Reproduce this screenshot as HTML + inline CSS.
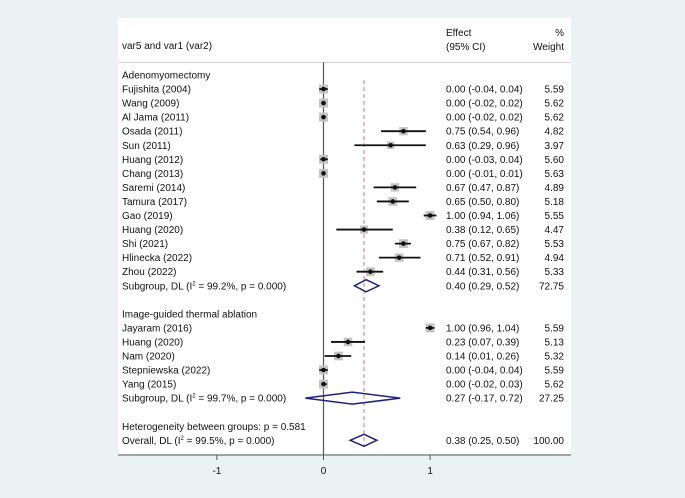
<!DOCTYPE html>
<html><head><meta charset="utf-8"><style>
body{margin:0;background:#eaf2f3;}
svg{display:block;font-family:"Liberation Sans",Arial,sans-serif;}
</style></head><body>
<svg id="plot" width="685" height="498" viewBox="0 0 685 498">
<rect x="0" y="0" width="685" height="498" fill="#eaf2f3"/>
<rect x="118" y="18" width="453" height="436" fill="#ffffff"/>
<text x="122" y="49" font-size="10" fill="#111">var5 and var1 (var2)</text>
<text x="446" y="36" font-size="10" fill="#111">Effect</text>
<text x="446" y="50" font-size="10" fill="#111">(95% CI)</text>
<text x="564" y="36" font-size="10" fill="#111" text-anchor="end">%</text>
<text x="564" y="50" font-size="10" fill="#111" text-anchor="end">Weight</text>
<line x1="118" y1="62.5" x2="571" y2="62.5" stroke="#cfcfcf" stroke-width="1"/>
<g id="marks"></g>
</svg>
<script>
// row types: h=heading, s=study, g=subgroup, t=text, o=overall
const labels = ["Adenomyomectomy","Fujishita (2004)","Wang (2009)","Al Jama (2011)","Osada (2011)","Sun (2011)","Huang (2012)","Chang (2013)","Saremi (2014)","Tamura (2017)","Gao (2019)","Huang (2020)","Shi (2021)","Hlinecka (2022)","Zhou (2022)","Subgroup, DL","","Image-guided thermal ablation","Jayaram (2016)","Huang (2020)","Nam (2020)","Stepniewska (2022)","Yang (2015)","Subgroup, DL","","Heterogeneity between groups: p = 0.581","Overall, DL"];
const rowTypes = ["h","s","s","s","s","s","s","s","s","s","s","s","s","s","s","g","","h","s","s","s","s","s","g","","t","o"];
const effects = [null,0.00,0.00,0.00,0.75,0.63,0.00,0.00,0.67,0.65,1.00,0.38,0.75,0.71,0.44,0.40,null,null,1.00,0.23,0.14,0.00,0.00,0.27,null,null,0.38];
const lowers  = [null,-0.04,-0.02,-0.02,0.54,0.29,-0.03,-0.01,0.47,0.50,0.94,0.12,0.67,0.52,0.31,0.29,null,null,0.96,0.07,0.01,-0.04,-0.02,-0.17,null,null,0.25];
const uppers  = [null,0.04,0.02,0.02,0.96,0.96,0.04,0.01,0.87,0.80,1.06,0.65,0.82,0.91,0.56,0.52,null,null,1.04,0.39,0.26,0.04,0.03,0.72,null,null,0.50];
const weights = [null,5.59,5.62,5.62,4.82,3.97,5.60,5.63,4.89,5.18,5.55,4.47,5.53,4.94,5.33,72.75,null,null,5.59,5.13,5.32,5.59,5.62,27.25,null,null,100.00];
const i2vals  = {15:"99.2%",23:"99.7%",26:"99.5%"};
const xTicks = [-1,0,1];
const overallEffect = effects[26];

const NS="http://www.w3.org/2000/svg";
const g=document.getElementById('marks');
const x0=323.5, unit=106.6;
function xs(v){return x0+v*unit;}
function ys(i){return 75+i*14.05;}
function el(tag,attrs){const e=document.createElementNS(NS,tag);for(const k in attrs)e.setAttribute(k,attrs[k]);g.appendChild(e);return e;}
function fmt(v){return v.toFixed(2);}

let zl=el('line',{x1:xs(0),y1:62.5,x2:xs(0),y2:455,stroke:'#555','stroke-width':1.2});


let dl=el('line',{x1:xs(overallEffect),y1:80,x2:xs(overallEffect),y2:446,stroke:'#c77c8a','stroke-width':1,'stroke-dasharray':'4,3'});



labels.forEach((lab,i)=>{
  const y=ys(i), t=rowTypes[i];
  if(!t) return;
  let txt=el('text',{x:122,y:y+3.5,'font-size':10,fill:'#111'});
  if(t==='g'||t==='o'){
    txt.innerHTML=lab+' (I<tspan dy="-4" font-size="6">2</tspan><tspan dy="4"> = '+i2vals[i]+', p = 0.000)</tspan>';
  } else {
    txt.textContent=lab;
  }
  
  
  if(effects[i]===null) return;
  const e=effects[i],lo=lowers[i],hi=uppers[i],w=weights[i];
  if(t==='s'){
    const s=Math.sqrt(w)*3.8;
    const sq=el('rect',{x:xs(e)-s/2,y:y-s/2,width:s,height:s,fill:'#c4c4c4'});
    
    
    const ci=el('line',{x1:xs(lo),y1:y,x2:xs(hi),y2:y,stroke:'#111','stroke-width':1.8});
    
    
    const pt=el('circle',{cx:xs(e),cy:y,r:2.3,fill:'#111'});
    
    
  } else {
    const d=el('polygon',{points:`${xs(lo)},${y} ${xs(e)},${y-6} ${xs(hi)},${y} ${xs(e)},${y+6}`,fill:'none',stroke:'#1a237e','stroke-width':1.5});
    
    
  }
  const et=el('text',{x:446,y:y+3.5,'font-size':10,fill:'#111'});
  et.textContent=`${fmt(e)} (${fmt(lo)}, ${fmt(hi)})`;
  
  
  const wt=el('text',{x:564,y:y+3.5,'font-size':10,fill:'#111','text-anchor':'end'});
  wt.textContent=fmt(w);
  
  
});

const ax=el('line',{x1:118,y1:455,x2:571,y2:455,stroke:'#555','stroke-width':1});


xTicks.forEach(v=>{
  const tk=el('line',{x1:xs(v),y1:455,x2:xs(v),y2:460,stroke:'#555','stroke-width':1});
  
  
  const tl=el('text',{x:xs(v),y:474,'font-size':10,fill:'#111','text-anchor':'middle'});
  tl.textContent=String(v);
  
  
});
</script>
</body></html>
